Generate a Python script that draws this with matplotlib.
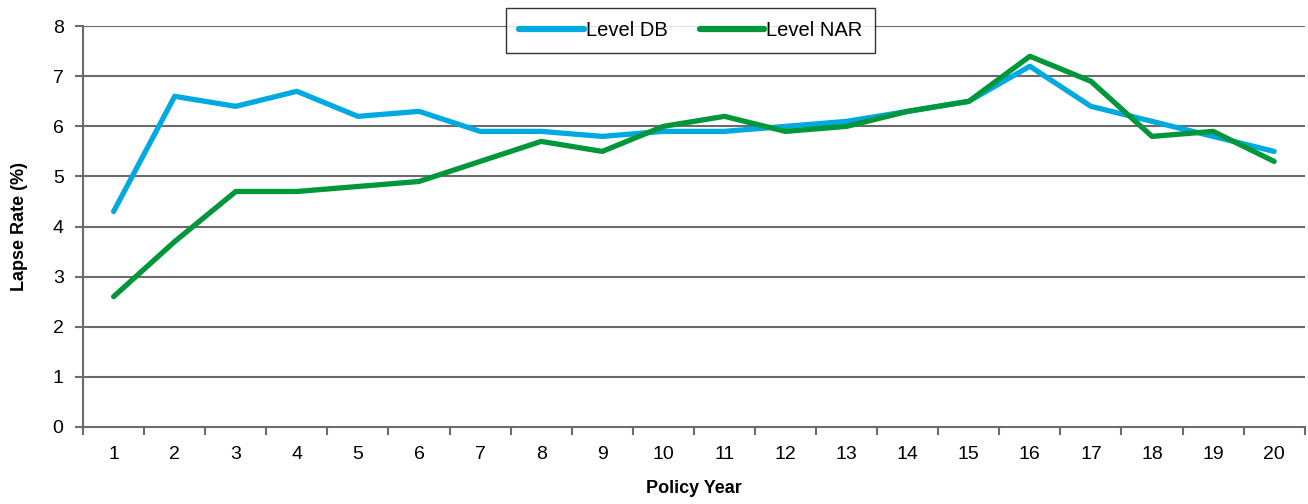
import numpy as np
import matplotlib
matplotlib.use("Agg")
import matplotlib.pyplot as plt

plt.rcParams['font.family'] = ['Liberation Sans', 'DejaVu Sans']

years = list(range(1, 21))
level_db = [4.3, 6.6, 6.4, 6.7, 6.2, 6.3, 5.9, 5.9, 5.8, 5.9,
            5.9, 6.0, 6.1, 6.3, 6.5, 7.2, 6.4, 6.1, 5.8, 5.5]
level_nar = [2.6, 3.7, 4.7, 4.7, 4.8, 4.9, 5.3, 5.7, 5.5, 6.0,
             6.2, 5.9, 6.0, 6.3, 6.5, 7.4, 6.9, 5.8, 5.9, 5.3]

fig = plt.figure(figsize=(13.08, 5.04), dpi=100)
ax = fig.add_axes([0.0635, 0.153, 0.934, 0.795])

grid_col = '#6b6b6b'
for v in range(1, 9):
    ax.axhline(v, color=grid_col, lw=1.5, zorder=1)

ax.plot(years, level_db, color='#00A9E0', lw=3.8, label='Level DB',
        solid_capstyle='round', zorder=3)
ax.plot(years, level_nar, color='#00973A', lw=3.8, label='Level NAR',
        solid_capstyle='round', zorder=4)

ax.set_xlim(0.5, 20.5)
ax.set_ylim(0, 8)
ax.set_yticks(range(0, 9))
ax.set_xticks(years)
ax.set_xticks(np.arange(0.5, 21, 1), minor=True)
ax.tick_params(axis='x', which='major', length=0, labelsize=14, pad=14)
ax.tick_params(axis='x', which='minor', length=6, width=1.5, color=grid_col)
ax.tick_params(axis='y', length=6, width=1.5, color=grid_col, labelsize=14, pad=8)

for s in ['top', 'right']:
    ax.spines[s].set_visible(False)
for s in ['left', 'bottom']:
    ax.spines[s].set_color(grid_col)
    ax.spines[s].set_linewidth(1.5)

ax.set_xlabel('Policy Year', fontsize=13, fontweight='bold', labelpad=12)
ax.set_ylabel('Lapse Rate (%)', fontsize=13, fontweight='bold', labelpad=18)

leg = ax.legend(loc='upper center', bbox_to_anchor=(0.4975, 1.045), ncol=2,
                fontsize=14.5, frameon=True, fancybox=False, handlelength=3.2,
                columnspacing=1.6, handletextpad=0.1, borderpad=0.65,
                borderaxespad=0)
leg.get_frame().set_edgecolor('black')
leg.get_frame().set_linewidth(1.0)
leg.set_zorder(10)
for line in leg.get_lines():
    line.set_linewidth(4.5)

fig.savefig('out.png', dpi=100)
